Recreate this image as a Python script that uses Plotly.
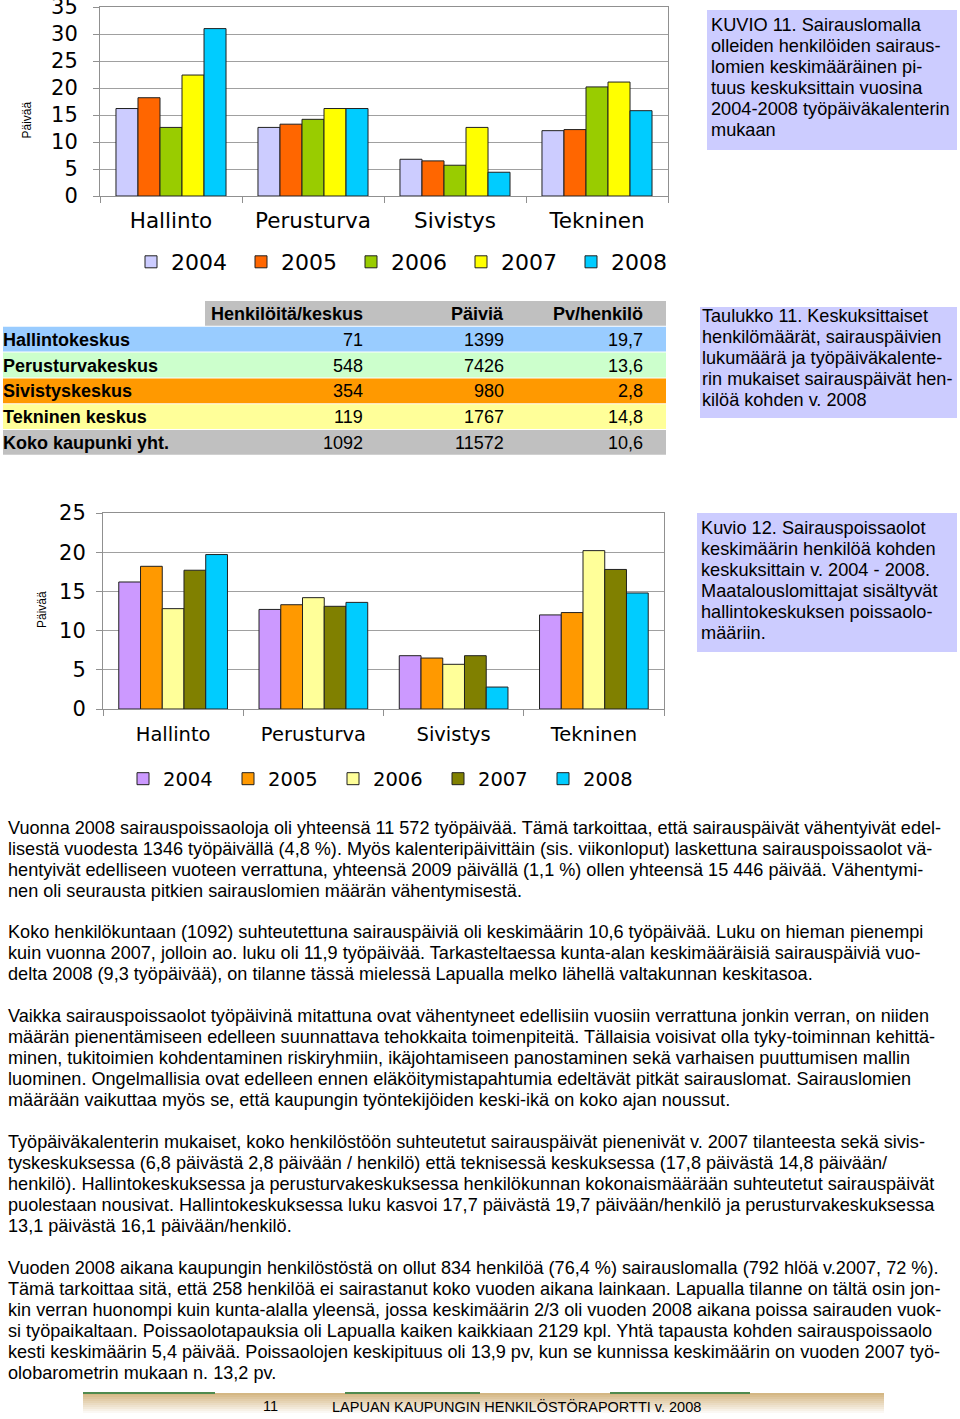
import plotly.graph_objects as go

W, H = 960, 1419

# --- data -------------------------------------------------------------
keskukset = ["Hallinto", "Perusturva", "Sivistys", "Tekninen"]
vuodet = ["2004", "2005", "2006", "2007", "2008"]

# Kuvio 11: sairauslomien keskimaarainen pituus (tyopaivakalenteri)
kuvio11 = {
    "2004": [16.2, 12.7, 6.8, 12.1],
    "2005": [18.2, 13.3, 6.5, 12.3],
    "2006": [12.7, 14.2, 5.7, 20.2],
    "2007": [22.4, 16.2, 12.7, 21.1],
    "2008": [31.0, 16.2, 4.4, 15.8],
}
# Kuvio 12: sairauspoissaolot keskimaarin henkiloa kohden
kuvio12 = {
    "2004": [16.2, 12.7, 6.8, 12.0],
    "2005": [18.2, 13.3, 6.5, 12.3],
    "2006": [12.8, 14.2, 5.7, 20.2],
    "2007": [17.7, 13.1, 6.8, 17.8],
    "2008": [19.7, 13.6, 2.8, 14.8],
}

# Taulukko 11
rivit = ["Hallintokeskus", "Perusturvakeskus", "Sivistyskeskus", "Tekninen keskus", "Koko kaupunki yht."]
henkiloita = ["71", "548", "354", "119", "1092"]
paivia = ["1399", "7426", "980", "1767", "11572"]
pv_henkilo = ["19,7", "13,6", "2,8", "14,8", "10,6"]
otsikot = ["Henkilöitä/keskus", "Päiviä", "Pv/henkilö"]

kuvio11_teksti = ["KUVIO 11. Sairauslomalla", "olleiden henkilöiden sairaus-",
                  "lomien keskimääräinen pi-", "tuus keskuksittain vuosina",
                  "2004-2008 työpäiväkalenterin", "mukaan"]
taulukko11_teksti = ["Taulukko 11. Keskuksittaiset", "henkilömäärät, sairauspäivien",
                     "lukumäärä ja työpäiväkalente-", "rin mukaiset sairauspäivät hen-",
                     "kilöä kohden v. 2008"]
kuvio12_teksti = ["Kuvio 12. Sairauspoissaolot", "keskimäärin henkilöä kohden",
                  "keskuksittain v. 2004 - 2008.", "Maatalouslomittajat sisältyvät",
                  "hallintokeskuksen poissaolo-", "määriin."]

kappaleet = [
    ["Vuonna 2008 sairauspoissaoloja oli yhteensä 11 572 työpäivää. Tämä tarkoittaa, että sairauspäivät vähentyivät edel-",
     "lisestä vuodesta 1346 työpäivällä (4,8 %). Myös kalenteripäivittäin (sis. viikonloput) laskettuna sairauspoissaolot vä-",
     "hentyivät edelliseen vuoteen verrattuna, yhteensä 2009 päivällä (1,1 %) ollen yhteensä 15 446 päivää. Vähentymi-",
     "nen oli seurausta pitkien sairauslomien määrän vähentymisestä."],
    ["Koko henkilökuntaan (1092) suhteutettuna sairauspäiviä oli keskimäärin 10,6 työpäivää. Luku on hieman pienempi",
     "kuin vuonna 2007, jolloin ao. luku oli 11,9 työpäivää. Tarkasteltaessa kunta-alan keskimääräisiä sairauspäiviä vuo-",
     "delta 2008 (9,3 työpäivää), on tilanne tässä mielessä Lapualla melko lähellä valtakunnan keskitasoa."],
    ["Vaikka sairauspoissaolot työpäivinä mitattuna ovat vähentyneet edellisiin vuosiin verrattuna jonkin verran, on niiden",
     "määrän pienentämiseen edelleen suunnattava tehokkaita toimenpiteitä. Tällaisia voisivat olla tyky-toiminnan kehittä-",
     "minen, tukitoimien kohdentaminen riskiryhmiin, ikäjohtamiseen panostaminen sekä varhaisen puuttumisen mallin",
     "luominen. Ongelmallisia ovat edelleen ennen eläköitymistapahtumia edeltävät pitkät sairauslomat. Sairauslomien",
     "määrään vaikuttaa myös se, että kaupungin työntekijöiden keski-ikä on koko ajan noussut."],
    ["Työpäiväkalenterin mukaiset, koko henkilöstöön suhteutetut sairauspäivät pienenivät v. 2007 tilanteesta sekä sivis-",
     "tyskeskuksessa (6,8 päivästä 2,8 päivään / henkilö) että teknisessä keskuksessa (17,8 päivästä 14,8 päivään/",
     "henkilö). Hallintokeskuksessa ja perusturvakeskuksessa henkilökunnan kokonaismäärään suhteutetut sairauspäivät",
     "puolestaan nousivat. Hallintokeskuksessa luku kasvoi 17,7 päivästä 19,7 päivään/henkilö ja perusturvakeskuksessa",
     "13,1 päivästä 16,1 päivään/henkilö."],
    ["Vuoden 2008 aikana kaupungin henkilöstöstä on ollut 834 henkilöä (76,4 %) sairauslomalla (792 hlöä v.2007, 72 %).",
     "Tämä tarkoittaa sitä, että 258 henkilöä ei sairastanut koko vuoden aikana lainkaan. Lapualla tilanne on tältä osin jon-",
     "kin verran huonompi kuin kunta-alalla yleensä, jossa keskimäärin 2/3 oli vuoden 2008 aikana poissa sairauden vuok-",
     "si työpaikaltaan. Poissaolotapauksia oli Lapualla kaiken kaikkiaan 2129 kpl. Yhtä tapausta kohden sairauspoissaolo",
     "kesti keskimäärin 5,4 päivää. Poissaolojen keskipituus oli 13,9 pv, kun se kunnissa keskimäärin on vuoden 2007 työ-",
     "olobarometrin mukaan n. 13,2 pv."],
]
kappale_y = [828, 932, 1016, 1142, 1268]

varit11 = ["#ccccff", "#ff6600", "#99cc00", "#ffff00", "#00ccff"]
varit12 = ["#cc99ff", "#ff9900", "#ffff99", "#808000", "#00ccff"]
rivivarit = ["#99ccff", "#ccffcc", "#ff9900", "#ffff99", "#c0c0c0"]

CHART_FONT = "DejaVu Sans"
TEXT_FONT = "Liberation Sans, Arial, sans-serif"


def px_x(x):
    return x / W


def px_y(y):
    return 1 - y / H


fig = go.Figure()

for i, v in enumerate(vuodet):
    fig.add_trace(go.Bar(x=keskukset, y=kuvio11[v], name=v,
                         marker=dict(color=varit11[i], line=dict(color="#202020", width=1)),
                         xaxis="x", yaxis="y", legend="legend"))
for i, v in enumerate(vuodet):
    fig.add_trace(go.Bar(x=keskukset, y=kuvio12[v], name=v,
                         marker=dict(color=varit12[i], line=dict(color="#202020", width=1)),
                         xaxis="x2", yaxis="y2", legend="legend2"))

axis_common = dict(showline=True, linecolor="#909090", mirror=True, tickcolor="#909090",
                   automargin=False, fixedrange=True, ticklabeloverflow="allow")

fig.update_layout(
    template="none",
    width=W, height=H, margin=dict(l=0, r=0, t=0, b=0, autoexpand=False),
    paper_bgcolor="white", plot_bgcolor="white",
    barmode="group", bargap=0.225, bargroupgap=0,
    font=dict(family=CHART_FONT, color="black"),
    showlegend=True,
    xaxis=dict(domain=[px_x(100), px_x(668)], anchor="y", type="category",
               ticks="outside", tickson="boundaries", ticklen=6, ticklabelstandoff=5,
               showgrid=False, tickfont=dict(size=21.5), **axis_common),
    yaxis=dict(domain=[px_y(196), px_y(7)], anchor="x", range=[0, 35], dtick=5,
               showgrid=True, gridcolor="#a0a0a0", gridwidth=1, zeroline=False,
               ticks="outside", ticklen=6, ticklabelstandoff=11,
               tickfont=dict(size=21), **axis_common),
    xaxis2=dict(domain=[px_x(103), px_x(664)], anchor="y2", type="category",
                ticks="outside", tickson="boundaries", ticklen=6, ticklabelstandoff=8,
                showgrid=False, tickfont=dict(size=19.5), **axis_common),
    yaxis2=dict(domain=[px_y(709), px_y(513)], anchor="x2", range=[0, 25], dtick=5,
                showgrid=True, gridcolor="#a0a0a0", gridwidth=1, zeroline=False,
                ticks="outside", ticklen=6, ticklabelstandoff=6,
                tickfont=dict(size=21), **axis_common),
    legend=dict(orientation="h", x=px_x(131), y=px_y(262), xanchor="left", yanchor="middle",
                entrywidth=65, entrywidthmode="pixels", font=dict(size=22),
                bgcolor="rgba(0,0,0,0)"),
    legend2=dict(orientation="h", x=px_x(123), y=px_y(779), xanchor="left", yanchor="middle",
                 entrywidth=60, entrywidthmode="pixels", font=dict(size=19.5),
                 bgcolor="rgba(0,0,0,0)"),
)

# y axis titles
fig.add_annotation(x=px_x(18), y=px_y(100), xref="paper", yref="paper", text="Päivää",
                   textangle=-90, showarrow=False, font=dict(family=TEXT_FONT, size=12))
fig.add_annotation(x=px_x(33), y=px_y(610), xref="paper", yref="paper", text="Päivää",
                   textangle=-90, showarrow=False, font=dict(family=TEXT_FONT, size=12))


def add_text(t, x, y, size, anchor="left", bold=False):
    fig.add_annotation(x=px_x(x), y=px_y(y), xref="paper", yref="paper",
                       xanchor=anchor, yanchor="middle", text=("<b>%s</b>" % t) if bold else t,
                       showarrow=False, font=dict(family=TEXT_FONT, size=size, color="black"))


def add_lines(lines, x, y0, step, size):
    for i, t in enumerate(lines):
        add_text(t, x, y0 + i * step, size)


def add_rect(x0, y0, x1, y1, color):
    fig.add_shape(type="rect", xref="paper", yref="paper", x0=px_x(x0), x1=px_x(x1),
                  y0=px_y(y1), y1=px_y(y0), fillcolor=color, line_width=0, layer="below")


# table (Taulukko 11)
TAB_TOP, ROW_H = 301, 25.8
col_right = [365, 506, 645]
add_rect(205, TAB_TOP, 666, TAB_TOP + ROW_H - 1, "#c0c0c0")
for j, o in enumerate(otsikot):
    add_text(o, col_right[j], TAB_TOP + ROW_H / 2, 18, anchor="right", bold=True)
for i, r in enumerate(rivit):
    y0 = TAB_TOP + ROW_H * (i + 1)
    add_rect(3, y0, 666, y0 + ROW_H - 1, rivivarit[i])
    add_text(r, 1, y0 + ROW_H / 2, 18, bold=True)
    for j, val in enumerate([henkiloita[i], paivia[i], pv_henkilo[i]]):
        add_text(val, col_right[j], y0 + ROW_H / 2, 18, anchor="right")

# caption boxes
for x0, y0, x1, y1 in [(707, 10, 957, 150), (700, 307, 957, 418), (697, 513, 957, 652)]:
    add_rect(x0, y0, x1, y1, "#ccccff")

add_lines(kuvio11_teksti, 709, 25, 21, 18.2)
add_lines(taulukko11_teksti, 700, 316, 21, 18.1)
add_lines(kuvio12_teksti, 699, 528, 21, 18.2)

for kpl, y0 in zip(kappaleet, kappale_y):
    add_lines(kpl, 6, y0, 21, 18.1)

# footer band
for k in range(10):
    fig.add_shape(type="rect", xref="paper", yref="paper", x0=px_x(83), x1=px_x(884),
                  y0=px_y(1393 + 2 * k + 2), y1=px_y(1393 + 2 * k), line_width=0,
                  fillcolor="rgba(205,170,110,%.2f)" % (0.85 * (1 - k / 10)))
for x0, x1 in [(83, 215), (345, 480), (610, 750)]:
    fig.add_shape(type="line", xref="paper", yref="paper", x0=px_x(x0), x1=px_x(x1),
                  y0=px_y(1393), y1=px_y(1393), line=dict(color="#4f8a4f", width=2))
add_text("11", 270, 1406, 14.5, anchor="center")
add_text("LAPUAN KAUPUNGIN HENKILÖSTÖRAPORTTI v. 2008", 330, 1406, 14.5)

fig.write_html("out.html", config={"displayModeBar": False},
               post_script="document.body.style.margin='0';document.body.style.overflow='hidden';")
